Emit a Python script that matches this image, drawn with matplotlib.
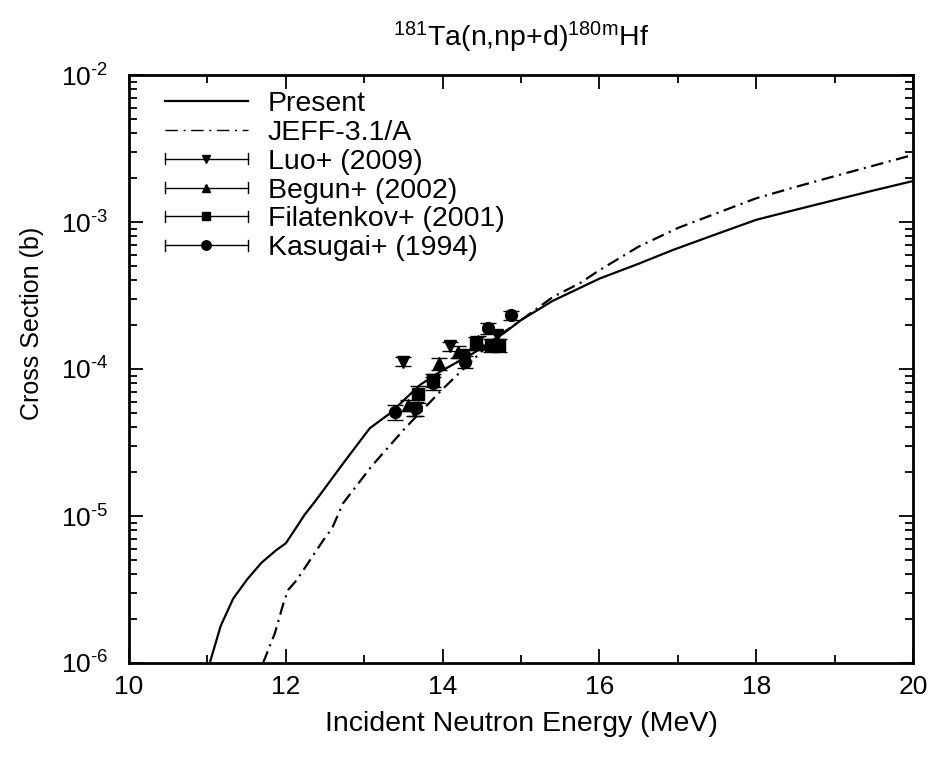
import math
import matplotlib
matplotlib.use("Agg")
import matplotlib.pyplot as plt
from matplotlib.lines import Line2D
from matplotlib.legend_handler import HandlerBase
from matplotlib.ticker import FixedLocator, LogLocator, FuncFormatter, NullFormatter, MultipleLocator

plt.rcParams['font.family'] = ['Liberation Sans', 'DejaVu Sans']
plt.rcParams['mathtext.fontset'] = 'custom'
plt.rcParams['mathtext.rm'] = 'Liberation Sans'
plt.rcParams['mathtext.it'] = 'Liberation Sans'
plt.rcParams['mathtext.bf'] = 'Liberation Sans'
plt.rcParams['lines.scale_dashes'] = False

# ---------------- data ----------------
present_E = [11.03, 11.17, 11.33, 11.51, 11.69, 11.88, 12.0, 12.14, 12.24, 12.37, 12.5, 12.75,
             13.07, 13.33, 13.71, 13.97, 14.39, 14.78, 15.0, 15.4, 16.01, 16.5, 16.94, 17.5,
             18.0, 18.5, 19.0, 19.5, 20.0]
present_xs = [1.0e-6, 1.79e-6, 2.75e-6, 3.72e-6, 4.81e-6, 5.87e-6, 6.52e-6, 8.45e-6, 1.02e-5,
              1.25e-5, 1.55e-5, 2.35e-5, 3.95e-5, 5.0e-5, 7.78e-5, 9.6e-5, 1.28e-4, 1.75e-4,
              2.15e-4, 2.9e-4, 4.14e-4, 5.2e-4, 6.46e-4, 8.3e-4, 1.035e-3, 1.21e-3, 1.41e-3,
              1.64e-3, 1.9e-3]

jeff_E = [11.71, 11.86, 11.97, 12.03, 12.14, 12.31, 12.48, 12.59, 12.73, 13.1, 13.52, 14.0,
          14.52, 14.73, 15.0, 15.41, 15.75, 16.0, 16.5, 17.0, 17.5, 18.0, 18.5, 19.0, 19.5, 20.0]
jeff_xs = [1.0e-6, 1.59e-6, 2.55e-6, 3.14e-6, 3.67e-6, 5.02e-6, 6.87e-6, 8.24e-6, 1.22e-5,
           2.2e-5, 3.95e-5, 7.3e-5, 1.35e-4, 1.70e-4, 2.15e-4, 3.1e-4, 3.83e-4, 4.7e-4,
           6.8e-4, 9.1e-4, 1.15e-3, 1.45e-3, 1.73e-3, 2.05e-3, 2.42e-3, 2.86e-3]

luo_E = [13.5, 13.64, 14.09, 14.7]
luo_xs = [1.12e-4, 5.2e-5, 1.43e-4, 1.70e-4]
luo_err = [0.08e-4, 0.4e-5, 0.10e-4, 0.12e-4]

begun_E = [13.56, 13.95, 14.2, 14.45]
begun_xs = [5.7e-5, 1.09e-4, 1.31e-4, 1.55e-4]
begun_err = [0.5e-5, 0.10e-4, 0.12e-4, 0.14e-4]

fil_E = [13.69, 13.88, 14.43, 14.62, 14.72]
fil_xs = [6.8e-5, 8.4e-5, 1.49e-4, 1.46e-4, 1.46e-4]
fil_err = [0.9e-5, 0.9e-5, 0.15e-4, 0.15e-4, 0.15e-4]

kas_E = [13.39, 13.66, 13.88, 14.27, 14.28, 14.58, 14.87]
kas_xs = [5.1e-5, 5.4e-5, 8.0e-5, 1.25e-4, 1.12e-4, 1.89e-4, 2.33e-4]
kas_err = [0.6e-5, 0.6e-5, 0.8e-5, 0.12e-4, 0.11e-4, 0.15e-4, 0.17e-4]

x_ticks = [10, 12, 14, 16, 18, 20]
y_ticks = [1e-6, 1e-5, 1e-4, 1e-3, 1e-2]

# ---------------- figure ----------------
fig = plt.figure(figsize=(9.38, 7.58), dpi=100)
ax = fig.add_axes([129/938, 1-663/758, (913-129)/938, (663-75)/758])

lw = 1.6
dd = (9, 4, 1.5, 4)
ax.plot(present_E, present_xs, color='k', lw=lw)
ax.plot(jeff_E, jeff_xs, color='k', lw=lw, dashes=dd)

sets = [
    (luo_E, luo_xs, luo_err, 'v', 8, 'Luo+ (2009)'),
    (begun_E, begun_xs, begun_err, '^', 8, 'Begun+ (2002)'),
    (fil_E, fil_xs, fil_err, 's', 8, 'Filatenkov+ (2001)'),
    (kas_E, kas_xs, kas_err, 'o', 8.5, 'Kasugai+ (1994)'),
]
handles = [Line2D([], [], color='k', lw=lw, label='Present'),
           Line2D([], [], color='k', lw=1, dashes=dd, label='JEFF-3.1/A')]
for E, xs, err, mk, ms, lab in sets:
    ax.errorbar(E, xs, yerr=err, fmt=mk, color='k', ms=ms, capsize=5.5, elinewidth=1,
                capthick=1, zorder=3)
    handles.append(Line2D([], [], color='k', marker=mk, ms=ms * 0.8, lw=1, label=lab))


class HandlerGnu(HandlerBase):
    def create_artists(self, legend, orig_handle, xdescent, ydescent, width, height,
                       fontsize, trans):
        y = height / 2 - ydescent
        x0, x1 = -xdescent, width - xdescent
        arts = [Line2D([x0, x1], [y, y], color='k', lw=1),
                Line2D([x0, x0], [y - 4, y + 4], color='k', lw=1),
                Line2D([x1, x1], [y - 4, y + 4], color='k', lw=1),
                Line2D([(x0 + x1) / 2], [y], color='k', marker=orig_handle.get_marker(),
                       ms=orig_handle.get_markersize(), ls='none')]
        for a in arts:
            a.set_transform(trans)
        return arts


hmap = {h: HandlerGnu() for h in handles[2:]}
leg = ax.legend(handles=handles, handler_map=hmap, loc='upper left',
                bbox_to_anchor=(36/784, 1 - 16/588), frameon=False, fontsize=20.5,
                handlelength=2.9, handletextpad=0.7, labelspacing=0.1,
                borderaxespad=0, borderpad=0)

ax.set_yscale('log')
ax.set_xlim(10, 20)
ax.set_ylim(1e-6, 1e-2)
ax.xaxis.set_major_locator(FixedLocator(x_ticks))
ax.xaxis.set_minor_locator(MultipleLocator(1))
ax.yaxis.set_major_locator(FixedLocator(y_ticks))
ax.yaxis.set_minor_locator(LogLocator(base=10, subs=range(2, 10)))
ax.yaxis.set_minor_formatter(NullFormatter())


def yfmt(v, pos):
    e = int(round(math.log10(v)))
    return r'10$^{\text{%d}}$' % e


ax.yaxis.set_major_formatter(FuncFormatter(yfmt))
ax.xaxis.set_major_formatter(FuncFormatter(lambda v, p: '%d' % v))

ax.tick_params(which='both', direction='in', top=True, right=True, labelsize=19,
               width=1.3, colors='k')
ax.tick_params(which='major', length=10)
ax.tick_params(axis='x', which='major', pad=9)
ax.tick_params(axis='y', which='major', pad=15)
ax.tick_params(which='minor', length=6)
for s in ax.spines.values():
    s.set_linewidth(2)

ax.set_xlabel('Incident Neutron Energy (MeV)', fontsize=20.5, labelpad=8)
ax.set_ylabel('Cross Section (b)', fontsize=18)
ax.yaxis.set_label_coords((44 - 129) / 784, (663 - 323) / 588)
ax.set_title(r'$^{181}$Ta(n,np+d)$^{180m}$Hf', fontsize=20.5, pad=21)

fig.savefig('out.png', dpi=100)
